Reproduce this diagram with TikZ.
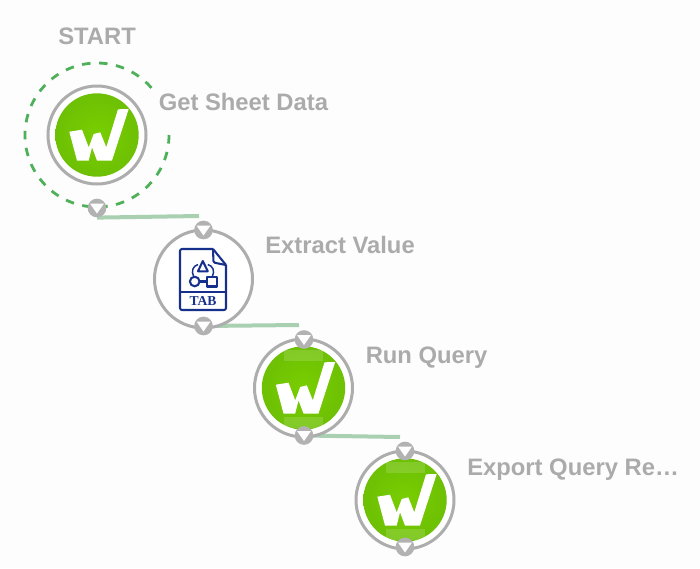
\documentclass[tikz,border=0pt]{standalone}
\usepackage{fontspec}
\setmainfont{Liberation Sans}
\newfontfamily\tabfont{Liberation Serif}
\pgfdeclarelayer{paper}
\pgfdeclarelayer{under}
\pgfsetlayers{paper,under,main}
\definecolor{pagebg}{HTML}{FDFDFD}
\definecolor{ringgray}{HTML}{ADADAD}
\definecolor{portgray}{HTML}{B2B2B2}
\definecolor{labelgray}{HTML}{ABABAB}
\definecolor{edgegreen}{HTML}{A9D0B1}
\definecolor{dashgreen}{HTML}{4FB05A}
\definecolor{navy}{HTML}{17308C}
\definecolor{wcenter}{HTML}{78CE00}
\definecolor{wedge}{HTML}{6DC004}
\tikzset{
  ring/.style={circle,draw=ringgray,line width=2.25pt,fill=white,minimum size=73.5pt,inner sep=0pt},
  port/.style={circle,fill=portgray,minimum size=14pt,inner sep=0pt},
  tip/.style={fill=white},
  steplabel/.style={anchor=base west,inner sep=0pt,text=labelgray,font=\fontsize{17.85pt}{20pt}\selectfont\bfseries},
  link/.style={draw=edgegreen,line width=3pt},
  icon/.style={draw=navy,line width=1.55pt,line join=round},
  wapp/.pic={
    \shade[inner color=wcenter,outer color=wedge] (0,0) circle (41.7);
    \fill[white] (-27.7,-3.3) -- (-15,-5.3) -- (-8.3,12.3) -- (-3.3,-1) -- (3.3,-2.7) -- (9.3,12.3)
      -- (21,-25.7) -- (31.7,-26) -- (15,25.5) -- (0,25.5) -- (-5,12.3) -- (-8.3,25.5) -- (-20,25.5) -- cycle;
  },
  wbands/.pic={
    \begin{scope}
      \clip (0,0) circle (41.7);
      \fill[white,fill opacity=.15] (-19.5,-38) rectangle (19.5,-27);
      \fill[white,fill opacity=.15] (-19.5,29) rectangle (19.5,40);
    \end{scope}
  },
  downtip/.pic={\fill[tip] (-7,-4.5) -- (7,-4.5) -- (0,5.5) -- cycle;}
}
\begin{document}
\begin{tikzpicture}[x=0.75pt,y=-0.75pt]
\useasboundingbox (0,0) rectangle (700,568);
\begin{pgfonlayer}{paper}
\fill[pagebg] (0,0) rectangle (700,568);
\end{pgfonlayer}

% nodes
\node[ring] (n1) at (97,135) {};
\node[ring] (n2) at (203.5,279) {};
\node[ring] (n3) at (303.5,388) {};
\node[ring] (n4) at (405,500) {};
\pic at (n1) {wapp};
\pic at (n3) {wapp};
\pic at (n4) {wapp};
\pic at (n3) {wbands};
\pic at (n4) {wbands};

% start marker
\draw[dashgreen,line width=2.1pt,dash pattern=on 6.4pt off 6.4pt]
  (169,135) arc[start angle=0,end angle=321,x radius=72,y radius=72];

% ports
\node[port] (p1b) at (97,208) {};
\node[port] (p2t) at (203.5,230) {};
\node[port] (p2b) at (203.5,326) {};
\node[port] (p3t) at (304,339.5) {};
\node[port] (p3b) at (304,435.5) {};
\node[port] (p4t) at (405,451) {};
\node[port] (p4b) at (405,547) {};
\foreach \p in {p1b,p2t,p2b,p3t,p3b,p4t,p4b} \pic at (\p) {downtip};

% connectors, beneath the rings and ports
\coordinate (e1) at (199,216);
\coordinate (e2) at (299,325);
\coordinate (e3) at (400,437);
\begin{pgfonlayer}{under}
\draw[link] (p1b.south) -- (e1);
\draw[link] (p2b.center) -- (e2);
\draw[link] (p3b.center) -- (e3);
\end{pgfonlayer}

% TAB icon
\draw[icon,rounded corners=1.5pt] (213,249) -- (180,249) -- (180,310) -- (226,310) -- (226,265);
\draw[icon] (213,249) -- (226,265);
\draw[icon,rounded corners=1pt] (213,249) -- (213.5,262.5) -- (226,265);
\draw[icon] (180,292) -- (226,292);
\draw[icon] (194.7,281.5) circle (4.8);
\draw[icon] (199.5,281.5) -- (207,281.5);
\draw[icon] (207,277) rectangle (217,286.5);
\draw[icon] (202.8,261) -- (198,271.3) -- (207.8,271.3) -- cycle;
\draw[icon,line width=1.1pt] (193.5,276) .. controls (191,271) and (193,266) .. (198,264.5);
\draw[icon,line width=1.1pt] (212.5,276) .. controls (215,271) and (213,266) .. (207.8,264.5);
\node[text=navy,inner sep=0pt,font=\tabfont\fontsize{10.2pt}{10pt}\selectfont\bfseries] (tabtext) at (203,301) {TAB};

% labels
\node[steplabel] (lstart) at (58,44) {START};
\node[steplabel] (l1) at (158.5,110) {Get Sheet Data};
\node[steplabel] (l2) at (265,253) {Extract Value};
\node[steplabel] (l3) at (365.5,363) {Run Query};
\node[steplabel] (l4) at (467,475) {Export Query Re…};
\end{tikzpicture}
\end{document}
